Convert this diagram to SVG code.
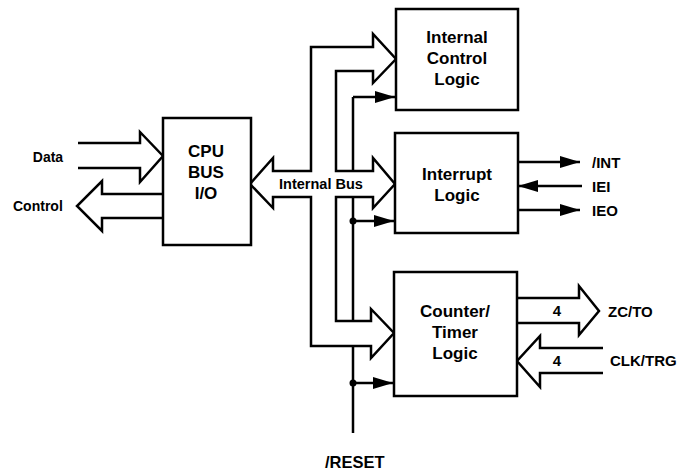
<svg xmlns="http://www.w3.org/2000/svg" width="682" height="474" viewBox="0 0 682 474">
<defs>
<style>
.box{fill:#fff;stroke:#000;stroke-width:2.5}
.ln{fill:none;stroke:#000;stroke-width:2.5;stroke-linejoin:miter}
.bus{fill:#fff;stroke:#000;stroke-width:2.5;stroke-linejoin:miter}
.t{font-family:"Liberation Sans",Arial,sans-serif;font-weight:bold;fill:#000}
.bt{font-size:17px;text-anchor:middle}
.lt{font-size:15px}
</style>
<marker id="ah" viewBox="0 0 20 12" refX="20" refY="6" markerWidth="20" markerHeight="12" markerUnits="userSpaceOnUse" orient="auto">
<path d="M0,0 L20,6 L0,12 Z" fill="#000"/>
</marker>
</defs>
<g id="connectors">
<line class="ln" x1="353" y1="97" x2="353" y2="433"/>
<line class="ln" x1="353" y1="97" x2="395" y2="97" marker-end="url(#ah)"/>
<line class="ln" x1="353" y1="221" x2="394" y2="221" marker-end="url(#ah)"/>
<line class="ln" x1="353" y1="383" x2="393" y2="383" marker-end="url(#ah)"/>
<circle cx="353" cy="221" r="3.5" fill="#000"/>
<circle cx="353" cy="383" r="3.5" fill="#000"/>
<path id="internal-bus" class="bus" d="M250,184 L273,158 L273,171 L311,171 L311,47 L373,47 L373,34 L396,59 L373,83 L373,71 L336,71 L336,171 L373,171 L373,158 L395,184 L373,208 L373,197 L336,197 L336,321 L371,321 L371,309 L394,333 L371,358 L371,346 L311,346 L311,197 L273,197 L273,208 Z"/>
<text class="t" x="321" y="189" font-size="14.5" text-anchor="middle">Internal Bus</text>
<polyline class="ln" points="78,143 140,143 140,132 163,156 140,182 140,168 78,168"/>
<polyline class="ln" points="163,194 102,194 102,181 77,206 102,231 102,218 163,218"/>
<line class="ln" x1="518" y1="162" x2="580" y2="162" marker-end="url(#ah)"/>
<line class="ln" x1="582" y1="186" x2="518" y2="186" marker-end="url(#ah)"/>
<line class="ln" x1="518" y1="210" x2="580" y2="210" marker-end="url(#ah)"/>
<polyline class="ln" points="517,298 579,298 579,286 599,311 579,335 579,323 517,323"/>
<polyline class="ln" points="603,348 540,348 540,336 517,361 540,387 540,373 603,373"/>
<text class="t lt" x="557" y="316" text-anchor="middle">4</text>
<text class="t lt" x="557" y="366" text-anchor="middle">4</text>
</g>
<g id="cpu-bus-io">
<rect class="box" x="163" y="118" width="88" height="127"/>
<text class="t bt" x="206" y="157">CPU</text>
<text class="t bt" x="206" y="178">BUS</text>
<text class="t bt" x="206" y="199">I/O</text>
</g>
<g id="internal-control-logic">
<rect class="box" x="396" y="9" width="122" height="101"/>
<text class="t bt" x="457" y="43">Internal</text>
<text class="t bt" x="457" y="64">Control</text>
<text class="t bt" x="457" y="85">Logic</text>
</g>
<g id="interrupt-logic">
<rect class="box" x="395" y="133" width="123" height="100"/>
<text class="t bt" x="457" y="180">Interrupt</text>
<text class="t bt" x="457" y="201">Logic</text>
</g>
<g id="counter-timer-logic">
<rect class="box" x="394" y="272" width="123" height="124"/>
<text class="t bt" x="455" y="317">Counter/</text>
<text class="t bt" x="455" y="338">Timer</text>
<text class="t bt" x="455" y="359">Logic</text>
</g>
<g id="labels">
<text class="t" x="48" y="162" font-size="14" text-anchor="middle">Data</text>
<text class="t" x="13" y="211" font-size="14">Control</text>
<text class="t lt" x="592" y="168">/INT</text>
<text class="t lt" x="592" y="192">IEI</text>
<text class="t lt" x="592" y="216">IEO</text>
<text class="t lt" x="608" y="317">ZC/TO</text>
<text class="t lt" x="610" y="366">CLK/TRG</text>
<text class="t" x="325" y="468" font-size="16.5">/RESET</text>
</g>
</svg>
